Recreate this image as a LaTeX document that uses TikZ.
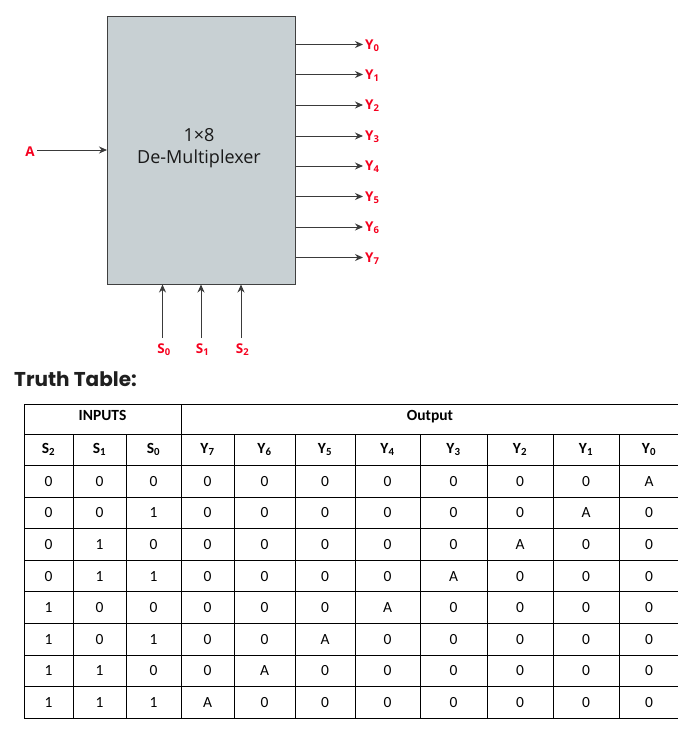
\documentclass[tikz,border=0pt]{standalone}
\usepackage{fontspec}
\setmainfont{Carlito}
\newfontfamily\osans{Open Sans}
\newfontfamily\popp{Poppins}
\usetikzlibrary{arrows.meta}
\definecolor{boxfill}{HTML}{C8D0D3}
\definecolor{boxline}{HTML}{404040}
\definecolor{sigred}{HTML}{F5001E}
\definecolor{wire}{HTML}{3A3A3A}

\begin{document}
\begin{tikzpicture}[x=1pt,y=-1pt,
  sig/.style={draw=wire, line width=1pt, -{Stealth[length=8pt,width=7pt]}},
  pin/.style={text=sigred, font=\osans\bfseries\fontsize{13.5}{13.5}\selectfont, inner sep=0pt},
  cell/.style={font=\fontsize{15.5}{16}\selectfont, inner sep=0pt, text depth=0pt},
  head/.style={font=\bfseries\fontsize{15.5}{16}\selectfont, inner sep=0pt, text depth=0pt},
  grid/.style={draw=black, line width=1pt}]
\useasboundingbox (0,0) rectangle (678,729);

% ---------- block symbol ----------
\node[draw=boxline, fill=boxfill, line width=1pt, minimum width=188pt,
      minimum height=268pt, anchor=north west, inner sep=0pt] (box) at (107,15.5) {};
\node[font=\osans\fontsize{18}{22}\selectfont, text=black!90, align=center] (title) at (199,148.5)
      {1×8\\De-Multiplexer};

% data input
\node[pin, anchor=base east, inner xsep=2pt] (A) at (37,156.5) {A};
\coordinate (ain) at (107,150);
\draw[sig] (A.east |- ain) -- (ain);

% outputs Y0..Y7
\foreach \k/\yy in {0/44.5,1/74.5,2/105,3/136,4/166,5/196.5,6/227,7/257.5} {
  \coordinate (tip\k) at (363,\yy);
  \node[pin, anchor=base west] (Y\k) at (365,\yy+4.8) {Y\textsubscript{\k}};
  \draw[sig] (box.east |- tip\k) -- (tip\k);
}

% select lines S0..S2
\foreach \k/\xx in {0/162.5,1/201,2/241} {
  \node[pin, anchor=base] (S\k) at (\xx+1.5,353.5) {S\textsubscript{\k}};
  \coordinate (sb\k) at (\xx,338);
  \draw[sig] (sb\k) -- (sb\k |- box.south);
}

% ---------- truth table ----------
\node[font=\popp\bfseries\fontsize{20}{22}\selectfont, text=black!88,
      anchor=base west, inner sep=0pt] (tt) at (14,386) {Truth Table:};

% grid
\foreach \yy in {404,434.5,465.5,497.1,528.7,560.3,591.9,623.5,655.1,686.7,718.3}
  \draw[grid] (24,\yy) -- (679,\yy);
\foreach \xx in {24,181,679}
  \draw[grid] (\xx,404) -- (\xx,718.3);
\foreach \xx in {73,126,234,295,355,420,487,553,619}
  \draw[grid] (\xx,434.5) -- (\xx,718.3);

% group headings
\node[head] (hin) at (102.5,415) {INPUTS};
\node[head] (hout) at (430,415) {Output};

% column headings
\foreach \t [count=\c] in {S\textsubscript{2},S\textsubscript{1},S\textsubscript{0},
    Y\textsubscript{7},Y\textsubscript{6},Y\textsubscript{5},Y\textsubscript{4},
    Y\textsubscript{3},Y\textsubscript{2},Y\textsubscript{1},Y\textsubscript{0}} {
  \pgfmathsetmacro\cx{{48.5,99.5,153.5,207.5,264.5,325,387.5,453.5,520,586,649}[\c-1]}
  \node[head] (h\c) at (\cx,448) {\t};
}

% rows
\foreach \r/\vals in {1/{0,0,0,0,0,0,0,0,0,0,A},
                      2/{0,0,1,0,0,0,0,0,0,A,0},
                      3/{0,1,0,0,0,0,0,0,A,0,0},
                      4/{0,1,1,0,0,0,0,A,0,0,0},
                      5/{1,0,0,0,0,0,A,0,0,0,0},
                      6/{1,0,1,0,0,A,0,0,0,0,0},
                      7/{1,1,0,0,A,0,0,0,0,0,0},
                      8/{1,1,1,A,0,0,0,0,0,0,0}} {
  \pgfmathsetmacro\cy{481.3+(\r-1)*31.6}
  \foreach \v [count=\c] in \vals {
    \pgfmathsetmacro\cx{{48.5,99.5,153.5,207.5,264.5,325,387.5,453.5,520,586,649}[\c-1]}
    \node[cell] (c-\r-\c) at (\cx,\cy) {\v};
  }
}
\end{tikzpicture}
\end{document}
